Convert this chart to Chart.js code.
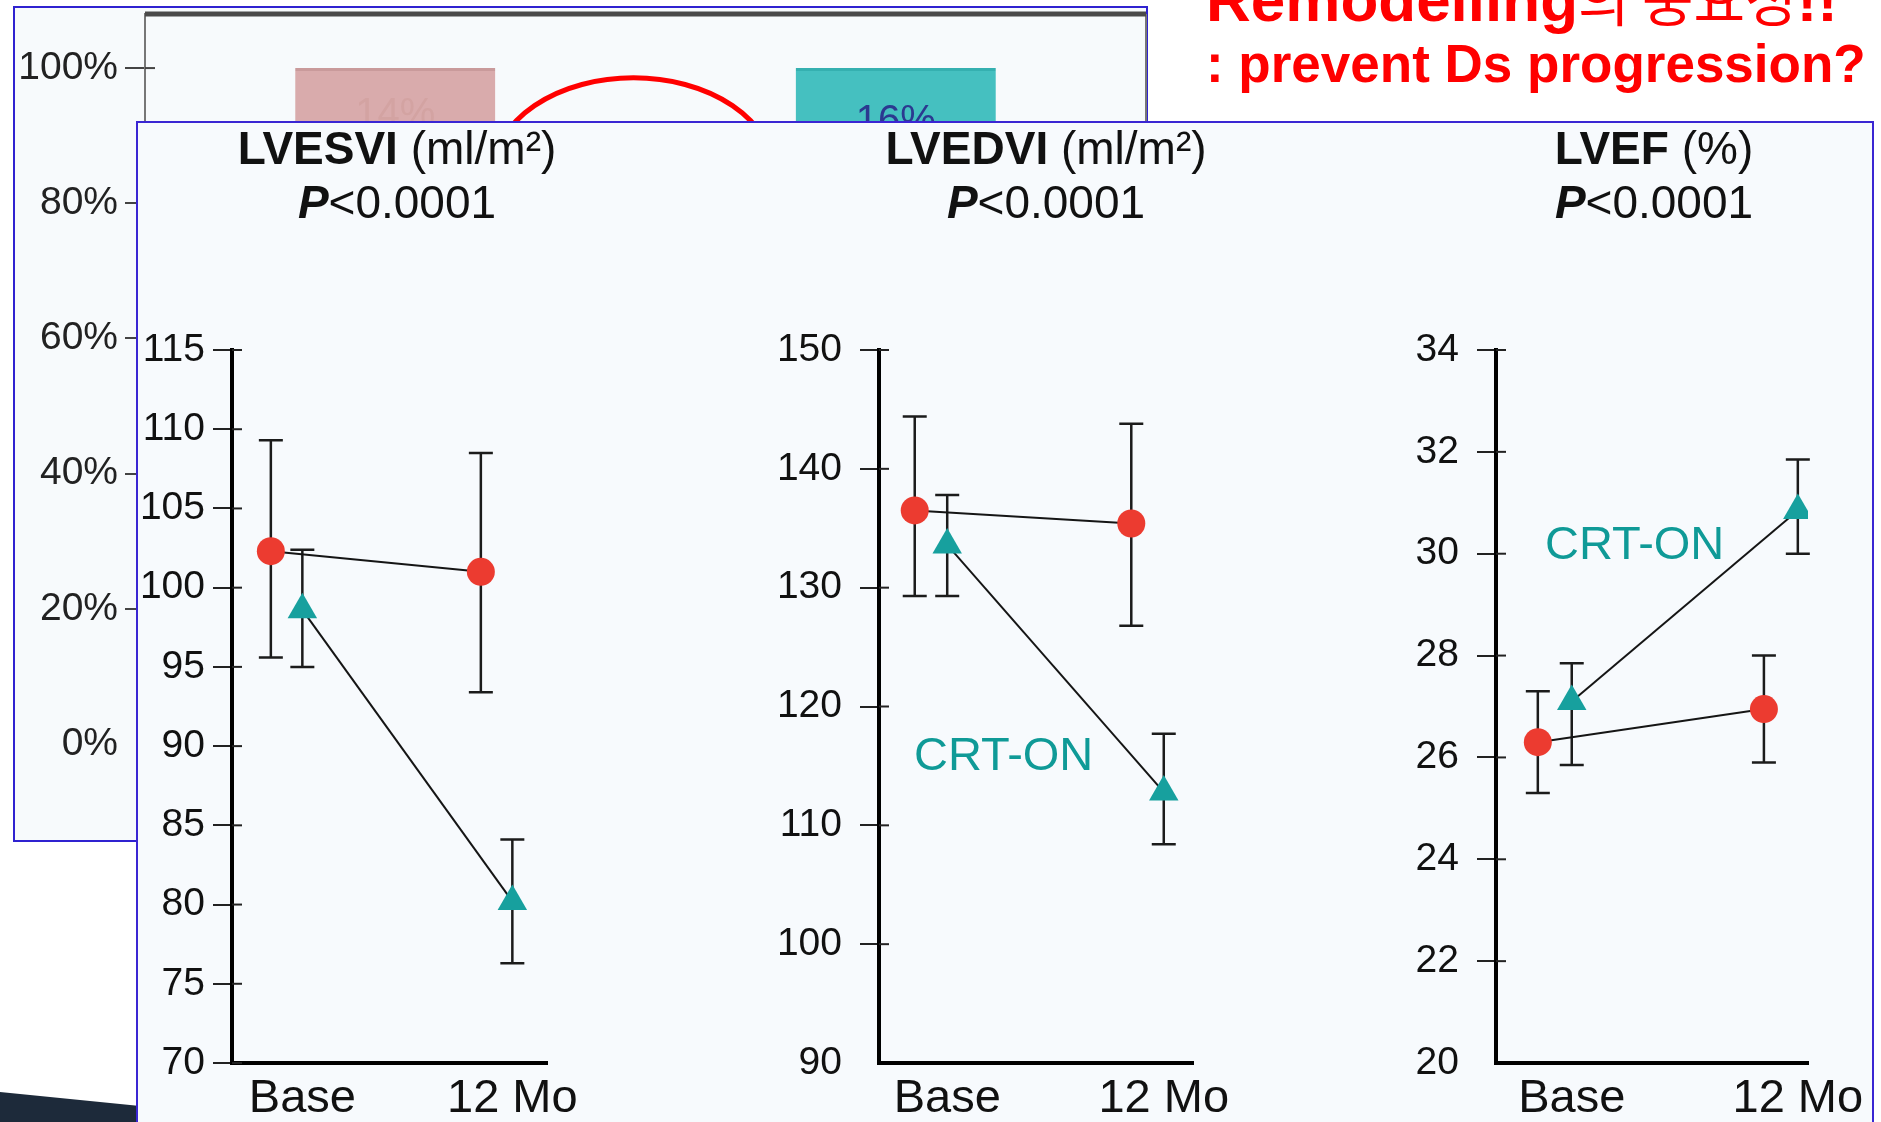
<!DOCTYPE html>
<html>
<head>
<meta charset="utf-8">
<script src="https://cdn.jsdelivr.net/npm/chart.js@4.4.0/dist/chart.umd.min.js"></script>
<style>
body { margin: 0; background: #fff; font-family: "Liberation Sans", Arial, sans-serif; }
#page { position: relative; width: 1881px; height: 1122px; overflow: hidden; background: #fff; }
.box { position: absolute; }
#pctBox { left: 13px; top: 6px; width: 1131px; height: 832px; border: 2px solid #2f22d0; background: #f7fafc; }
#pctWrap { position: absolute; left: -2px; top: -2px; width: 1135px; height: 836px; }
#swoosh { left: 0; top: 1085px; width: 140px; height: 37px; background: #1d2a3a;
  clip-path: polygon(0 7px, 100% 21px, 100% 100%, 0 100%); }
.head { position: absolute; left: 1206px; line-height: 64px; color: #ff0000; white-space: nowrap; font-weight: bold; }
#head1 { top: -35px; font-size: 62px; }
#head1 .kr { font-family: "Noto Sans CJK KR", sans-serif; font-weight: normal; font-size: 56px; }
#head2 { top: 32px; font-size: 53px; }
#panel { left: 136px; top: 121px; width: 1734px; height: 1100px; border: 2px solid #3a26d3; background: #f7fafd; }
.wrap { position: absolute; top: 320px; height: 802px; }
.ttl { position: absolute; top: 121px; width: 600px; text-align: center; font-size: 46px; line-height: 54px; color: #111; white-space: nowrap; }
.note { position: absolute; font-size: 47px; line-height: 54px; color: #0f9a97; white-space: nowrap; }
</style>
</head>
<body>
<div id="page">
  <div id="swoosh" class="box"></div>
  <div id="pctBox" class="box"><div id="pctWrap"><canvas id="pctChart"></canvas></div></div>
  <div id="head1" class="head">Remodelling<span class="kr">의 중요성</span>!!</div>
  <div id="head2" class="head">: prevent Ds progression?</div>
  <div id="panel" class="box"></div>

  <div class="wrap" style="left:140px;width:460px"><canvas id="esvChart"></canvas></div>
  <div class="wrap" style="left:780px;width:460px"><canvas id="edvChart"></canvas></div>
  <div class="wrap" style="left:1400px;width:472px"><canvas id="efChart"></canvas></div>

  <div class="ttl" style="left:97px"><b>LVESVI</b> (ml/m²)<br><b><i>P</i></b>&lt;0.0001</div>
  <div class="ttl" style="left:746px"><b>LVEDVI</b> (ml/m²)<br><b><i>P</i></b>&lt;0.0001</div>
  <div class="ttl" style="left:1354px"><b>LVEF</b> (%)<br><b><i>P</i></b>&lt;0.0001</div>

  <div class="note" style="left:914px;top:727px">CRT-ON</div>
  <div class="note" style="left:1545px;top:516px">CRT-ON</div>
</div>

<script>
// time points on the x axis
var timepoints = ['Base', '12 Mo'];

// LVESVI (ml/m2), mean and error bar ends
var esvOff = [102.3, 101.0];
var esvOffLo = [95.6, 93.4];
var esvOffHi = [109.3, 108.5];
var esvOn = [98.6, 80.2];
var esvOnLo = [95.0, 76.3];
var esvOnHi = [102.4, 84.1];

// LVEDVI (ml/m2)
var edvOff = [136.5, 135.4];
var edvOffLo = [129.3, 126.8];
var edvOffHi = [144.4, 143.8];
var edvOn = [133.6, 112.8];
var edvOnLo = [129.3, 108.4];
var edvOnHi = [137.8, 117.7];

// LVEF (%)
var efOff = [26.3, 26.95];
var efOffLo = [25.3, 25.9];
var efOffHi = [27.3, 28.0];
var efOn = [27.1, 30.85];
var efOnLo = [25.85, 30.0];
var efOnHi = [27.85, 31.85];

// response bars behind the panels
var groups = ['CRT-OFF', 'CRT-ON'];
var respLower = [86, 84];
var respUpper = [14, 16];

var RED = '#ec3b30';
var TEAL = '#17a09e';
var FONT = '"Liberation Sans", Arial, sans-serif';
Chart.defaults.font.family = FONT;

// the two groups sit a little apart around each time point
var offShift = -0.075;
var onShift = 0.075;

// keep the plot area exactly where the layout padding puts it
function noScalePadding(s) {
  s.paddingTop = 0; s.paddingBottom = 0; s.paddingLeft = 0; s.paddingRight = 0;
}

var errorBars = {
  id: 'errorBars',
  beforeDatasetsDraw: function(chart) {
    var ctx = chart.ctx, y = chart.scales.y;
    ctx.save();
    ctx.strokeStyle = '#1b1b1b';
    ctx.lineWidth = 2.5;
    chart.data.datasets.forEach(function(ds, i) {
      chart.getDatasetMeta(i).data.forEach(function(pt, j) {
        var top = y.getPixelForValue(ds.errHi[j]);
        var bot = y.getPixelForValue(ds.errLo[j]);
        ctx.beginPath();
        ctx.moveTo(pt.x, top); ctx.lineTo(pt.x, bot);
        ctx.moveTo(pt.x - 12, top); ctx.lineTo(pt.x + 12, top);
        ctx.moveTo(pt.x - 12, bot); ctx.lineTo(pt.x + 12, bot);
        ctx.stroke();
      });
    });
    ctx.restore();
  }
};

// short tick stubs on the inner side of the y axis
var innerTicks = {
  id: 'innerTicks',
  afterDraw: function(chart, args, opts) {
    var y = chart.scales.y, ctx = chart.ctx, x0 = chart.chartArea.left;
    ctx.save();
    ctx.strokeStyle = opts.color || '#222';
    ctx.lineWidth = 2;
    y.ticks.forEach(function(t) {
      if (opts.skipMin && t.value === y.min) return;
      var py = y.getPixelForValue(t.value);
      ctx.beginPath(); ctx.moveTo(x0, py); ctx.lineTo(x0 + opts.len, py); ctx.stroke();
    });
    ctx.restore();
  }
};

function drawPanel(id, p) {
  new Chart(document.getElementById(id), {
    type: 'line',
    data: {
      datasets: [{
        label: 'CRT-OFF',
        data: p.off.map(function(v, i) { return {x: i + 1 + offShift, y: v}; }),
        errLo: p.offLo, errHi: p.offHi,
        borderColor: '#151515', borderWidth: 2,
        pointStyle: 'circle', pointRadius: 14, pointBackgroundColor: RED, pointBorderWidth: 0
      }, {
        label: 'CRT-ON',
        data: p.on.map(function(v, i) { return {x: i + 1 + onShift, y: v}; }),
        errLo: p.onLo, errHi: p.onHi,
        borderColor: '#151515', borderWidth: 2,
        pointStyle: 'triangle', pointRadius: 17, pointBackgroundColor: TEAL, pointBorderWidth: 0
      }]
    },
    options: {
      animation: false,
      responsive: true,
      maintainAspectRatio: false,
      layout: { padding: { top: 30, right: p.rightPad, left: 0, bottom: 0 } },
      plugins: {
        legend: { display: false },
        tooltip: { enabled: false },
        innerTicks: { len: 10, skipMin: p.skipMin }
      },
      scales: {
        x: {
          type: 'linear', min: p.xMin, max: p.xMax,
          grid: { display: false, drawTicks: false },
          border: { display: true, color: '#000', width: 4 },
          ticks: {
            padding: 8, color: '#111', font: { size: 47 },
            callback: function(v) {
              var i = Math.round(v - onShift) - 1;
              return timepoints[i];
            }
          },
          afterBuildTicks: function(s) {
            s.ticks = timepoints.map(function(t, i) { return {value: i + 1 + onShift}; });
          },
          afterFit: function(s) { s.height = 59; noScalePadding(s); }
        },
        y: {
          min: p.yMin, max: p.yMax,
          ticks: { stepSize: p.step, padding: p.tickPad, color: '#111', font: { size: 39 } },
          grid: {
            drawOnChartArea: false, tickLength: 19, lineWidth: 2,
            color: function(c) { return (p.skipMin && c.tick && c.tick.value === p.yMin) ? 'rgba(0,0,0,0)' : '#222'; }
          },
          border: { display: true, color: '#000', width: 4 },
          afterFit: function(s) { s.width = p.axisW; noScalePadding(s); }
        }
      }
    },
    plugins: [errorBars, innerTicks]
  });
}

drawPanel('esvChart', {
  off: esvOff, offLo: esvOffLo, offHi: esvOffHi, on: esvOn, onLo: esvOnLo, onHi: esvOnHi,
  yMin: 70, yMax: 115, step: 5, xMin: 0.74, xMax: 2.24,
  axisW: 92, rightPad: 53, tickPad: 8, skipMin: false
});
drawPanel('edvChart', {
  off: edvOff, offLo: edvOffLo, offHi: edvOffHi, on: edvOn, onLo: edvOnLo, onHi: edvOnHi,
  yMin: 90, yMax: 150, step: 10, xMin: 0.76, xMax: 2.21,
  axisW: 99, rightPad: 47, tickPad: 18, skipMin: true
});
drawPanel('efChart', {
  off: efOff, offLo: efOffLo, offHi: efOffHi, on: efOn, onLo: efOnLo, onHi: efOnHi,
  yMin: 20, yMax: 34, step: 2, xMin: 0.74, xMax: 2.12,
  axisW: 96, rightPad: 64, tickPad: 18, skipMin: true
});

// frame along the top and right of the response plot
var frame = {
  id: 'frame',
  afterDraw: function(chart) {
    var a = chart.chartArea, ctx = chart.ctx;
    ctx.save();
    ctx.strokeStyle = '#777';
    ctx.lineWidth = 2;
    ctx.beginPath(); ctx.moveTo(a.right, a.top); ctx.lineTo(a.right, a.bottom); ctx.stroke();
    ctx.strokeStyle = '#4a4a4a';
    ctx.lineWidth = 5;
    ctx.beginPath(); ctx.moveTo(a.left, a.top); ctx.lineTo(a.right, a.top); ctx.stroke();
    ctx.restore();
  }
};

// percentage written inside the upper segment
var segLabels = {
  id: 'segLabels',
  afterDatasetsDraw: function(chart) {
    var ctx = chart.ctx;
    var colors = ['#d3a3a2', '#2b3990'];
    ctx.save();
    ctx.font = '40px ' + FONT;
    ctx.textAlign = 'center';
    ctx.textBaseline = 'middle';
    chart.getDatasetMeta(1).data.forEach(function(bar, i) {
      ctx.fillStyle = colors[i];
      ctx.fillText(respUpper[i] + '%', bar.x, (bar.y + bar.base) / 2);
    });
    ctx.restore();
  }
};

// red ring between the two bars
var ring = {
  id: 'ring',
  afterDraw: function(chart) {
    var ctx = chart.ctx, a = chart.chartArea, y = chart.scales.y;
    ctx.save();
    ctx.strokeStyle = '#ff0000';
    ctx.lineWidth = 5;
    ctx.beginPath();
    ctx.ellipse((a.left + a.right) / 2 - 12, y.getPixelForValue(84.5), 140, 95, 0, 0, Math.PI * 2);
    ctx.stroke();
    ctx.restore();
  }
};

new Chart(document.getElementById('pctChart'), {
  type: 'bar',
  data: {
    labels: groups,
    datasets: [{
      data: respLower, backgroundColor: ['#d3a3a4', '#3fbcbc'], borderWidth: 0,
      barPercentage: 0.8, categoryPercentage: 0.5
    }, {
      data: respUpper, backgroundColor: ['#d9abac', '#45c0c0'],
      borderColor: ['#c99a9b', '#35b0b0'], borderWidth: { top: 3 }, borderSkipped: 'bottom',
      barPercentage: 0.8, categoryPercentage: 0.5
    }]
  },
  options: {
    animation: false,
    responsive: true,
    maintainAspectRatio: false,
    layout: { padding: { top: 8, right: 2, left: 0, bottom: 98 } },
    plugins: {
      legend: { display: false },
      tooltip: { enabled: false },
      innerTicks: { len: 10, skipMin: true, color: '#444' }
    },
    scales: {
      x: { display: false, stacked: true },
      y: {
        stacked: true, min: 0, max: 108,
        ticks: {
          stepSize: 20, includeBounds: false, padding: 7, color: '#222', font: { size: 39 },
          callback: function(v) { return v + '%'; }
        },
        grid: {
          drawOnChartArea: false, tickLength: 20, lineWidth: 2,
          color: function(c) { return (c.tick && c.tick.value === 0) ? 'rgba(0,0,0,0)' : '#444'; }
        },
        border: { display: true, color: '#777', width: 2 },
        afterFit: function(s) { s.width = 132; noScalePadding(s); }
      }
    }
  },
  plugins: [innerTicks, frame, segLabels, ring]
});
</script>
</body>
</html>
